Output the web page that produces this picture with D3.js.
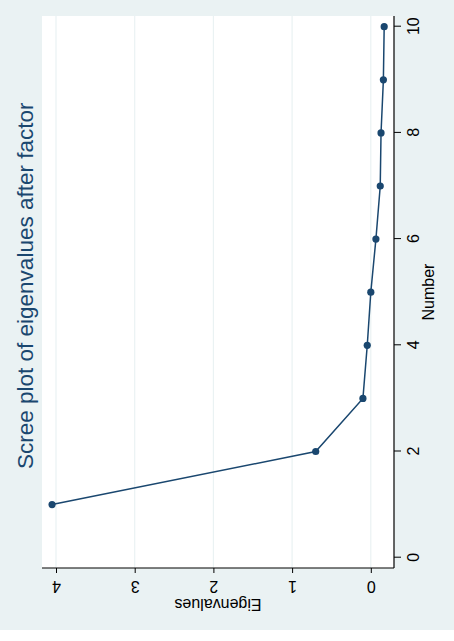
<!DOCTYPE html>
<html>
<head>
<meta charset="utf-8">
<script src="https://cdn.jsdelivr.net/npm/d3@7"></script>
<style>
  html, body { margin: 0; padding: 0; background: #ffffff; }
  svg { display: block; font-family: "Liberation Sans", Arial, Helvetica, sans-serif; }
</style>
</head>
<body>
<svg id="chart" width="454" height="641"></svg>
<script>
// ---- data ----
const numbers = [1, 2, 3, 4, 5, 6, 7, 8, 9, 10];
const eigenvalues = [4.05, 0.70, 0.10, 0.045, 0.0, -0.065, -0.12, -0.13, -0.16, -0.17];
const numberTicks = [0, 2, 4, 6, 8, 10];
const eigenTicks = [0, 1, 2, 3, 4];
const titleText = "Scree plot of eigenvalues after factor";
const xTitle = "Number";
const yTitle = "Eigenvalues";

// ---- layout (drawn in the un-rotated frame, then rotated 90° CCW) ----
const W = 641, H = 454;          // un-rotated frame width / height
const navy = "#1a476f";
const bg = "#eaf2f3";

const svg = d3.select("#chart");
const g = svg.append("g").attr("transform", `translate(0,${W}) rotate(-90)`);

// graph background
g.append("rect").attr("x", 11).attr("y", 0).attr("width", W - 11).attr("height", H).attr("fill", bg);

const plot = { left: 73, right: 625, top: 42, bottom: 394 };
g.append("rect")
  .attr("x", plot.left).attr("y", plot.top)
  .attr("width", plot.right - plot.left).attr("height", plot.bottom - plot.top)
  .attr("fill", "#ffffff");

const x = d3.scaleLinear().domain([0, 10]).range([83.3, 614.3]);
const y = d3.scaleLinear().domain([0, 4]).range([370.8, 56]);

// grid lines
g.append("g").selectAll("line").data(eigenTicks).join("line")
  .attr("x1", plot.left).attr("x2", plot.right)
  .attr("y1", d => y(d)).attr("y2", d => y(d))
  .attr("stroke", bg).attr("stroke-width", 1.2);

// y axis (eigenvalues)
const yAxis = g.append("g").attr("transform", `translate(${plot.left},0)`)
  .call(d3.axisLeft(y).tickValues(eigenTicks).tickFormat(d3.format("d")).tickSize(5).tickSizeOuter(0));
yAxis.select(".domain").remove();
yAxis.selectAll(".tick line").attr("stroke", "#000").attr("stroke-width", 1);
yAxis.selectAll(".tick text")
  .attr("x", null).attr("dy", null)
  .attr("transform", "translate(-12.5,0) rotate(-90)")
  .attr("text-anchor", "middle")
  .attr("fill", "#000").style("font-size", "16px");

// x axis (number)
const xAxis = g.append("g").attr("transform", `translate(0,${plot.bottom})`)
  .call(d3.axisBottom(x).tickValues(numberTicks).tickFormat(d3.format("d")).tickSize(7).tickSizeOuter(0));
xAxis.select(".domain").remove();
xAxis.selectAll(".tick line").attr("stroke", "#000").attr("stroke-width", 1);
xAxis.selectAll(".tick text")
  .attr("y", 24.5).attr("dy", null)
  .attr("text-anchor", "middle")
  .attr("fill", "#000").style("font-size", "16px");

// axis lines
g.append("line").attr("x1", plot.left).attr("x2", plot.left).attr("y1", plot.top).attr("y2", plot.bottom)
  .attr("stroke", "#000").attr("stroke-width", 1.2);
g.append("line").attr("x1", plot.left).attr("x2", plot.right).attr("y1", plot.bottom).attr("y2", plot.bottom)
  .attr("stroke", "#000").attr("stroke-width", 1.2);

// axis titles
g.append("text")
  .attr("transform", `translate(42,${(plot.top + plot.bottom) / 2}) rotate(-90)`)
  .attr("text-anchor", "middle").attr("fill", "#000").style("font-size", "16px")
  .text(yTitle);
g.append("text")
  .attr("x", (plot.left + plot.right) / 2).attr("y", 434)
  .attr("text-anchor", "middle").attr("fill", "#000").style("font-size", "16px")
  .text(xTitle);

// title
g.append("text")
  .attr("x", 172).attr("y", 33.3)
  .attr("text-anchor", "start").attr("fill", navy).style("font-size", "22.5px")
  .text(titleText);

// series
const pts = numbers.map((n, i) => ({ n, v: eigenvalues[i] }));
g.append("path").datum(pts)
  .attr("fill", "none").attr("stroke", navy).attr("stroke-width", 1.5)
  .attr("d", d3.line().x(d => x(d.n)).y(d => y(d.v)));
g.append("g").selectAll("circle").data(pts).join("circle")
  .attr("cx", d => x(d.n)).attr("cy", d => y(d.v)).attr("r", 3.6)
  .attr("fill", navy);
</script>
</body>
</html>
